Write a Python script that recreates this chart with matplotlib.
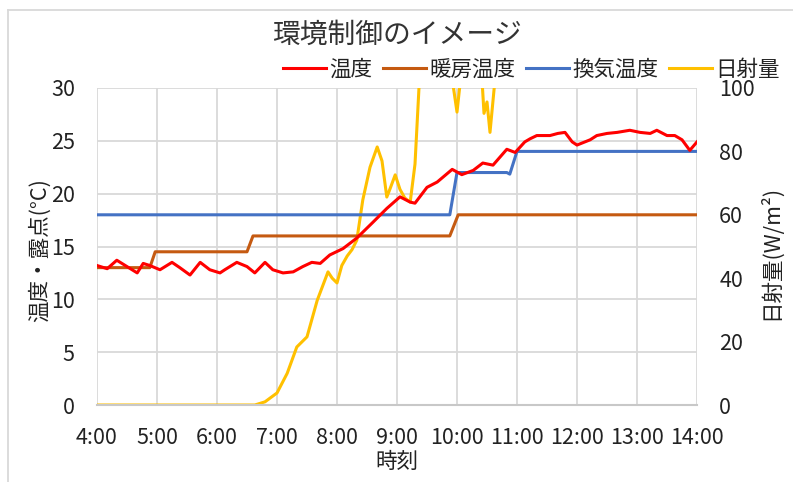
import matplotlib
matplotlib.use("Agg")
import matplotlib.pyplot as plt
from matplotlib.lines import Line2D

plt.rcParams['font.family'] = ['Noto Sans CJK JP', 'DejaVu Sans']

# ---- data (time in hours) ----
temp_t = [4.00, 4.17, 4.33, 4.50, 4.67, 4.77, 4.88, 5.05, 5.25, 5.38, 5.55, 5.72, 5.88,
          6.05, 6.13, 6.33, 6.50, 6.63, 6.80, 6.93, 7.10, 7.27, 7.43, 7.58, 7.72, 7.88,
          8.10, 8.33, 8.60, 8.83, 9.05, 9.22, 9.30, 9.50, 9.67, 9.92, 10.08, 10.27, 10.43,
          10.60, 10.83, 10.97, 11.13, 11.22, 11.33, 11.55, 11.68, 11.80, 11.92, 12.00,
          12.22, 12.33, 12.50, 12.67, 12.88, 13.05, 13.22, 13.33, 13.50, 13.63, 13.75,
          13.88, 14.00]
temp_v = [13.2, 12.9, 13.7, 13.1, 12.5, 13.4, 13.2, 12.8, 13.5, 13.0, 12.3, 13.5, 12.8,
          12.5, 12.8, 13.5, 13.1, 12.5, 13.5, 12.8, 12.5, 12.6, 13.1, 13.5, 13.4, 14.2,
          14.8, 15.8, 17.3, 18.6, 19.7, 19.2, 19.1, 20.6, 21.1, 22.3, 21.8, 22.2, 22.9,
          22.7, 24.2, 23.9, 24.9, 25.2, 25.5, 25.5, 25.7, 25.8, 24.9, 24.6,
          25.1, 25.5, 25.7, 25.8, 26.0, 25.8, 25.7, 26.0, 25.5, 25.5, 25.1,
          24.1, 24.9]

heat_t = [4.00, 4.88, 4.97, 6.50, 6.60, 9.88, 10.02, 14.00]
heat_v = [13.0, 13.0, 14.5, 14.5, 16.0, 16.0, 18.0, 18.0]

vent_t = [4.00, 9.88, 10.00, 10.83, 10.88, 11.00, 14.00]
vent_v = [18.0, 18.0, 22.0, 22.0, 21.85, 24.0, 24.0]

solar_t = [4.00, 6.63, 6.80, 7.00, 7.17, 7.33, 7.50, 7.67, 7.75, 7.85, 7.92, 8.00, 8.08,
           8.17, 8.25, 8.33, 8.43, 8.55, 8.67, 8.75, 8.83, 8.88, 8.97, 9.05, 9.13, 9.22,
           9.30, 9.38, 9.50, 9.75, 9.88, 10.00, 10.10, 10.30, 10.40, 10.45, 10.50, 10.55,
           10.63, 10.75, 12.00, 13.00, 14.00]
solar_v = [0, 0, 1, 3.8, 10, 18.3, 21.5, 33, 37, 42, 40, 38.5, 44,
           47, 49, 52, 64.7, 75, 81.4, 77, 65.6, 68, 72.6, 68, 65.3, 64,
           76, 105, 140, 130, 108, 92.4, 110, 130, 108, 92, 95.6, 86,
           102, 150, 200, 220, 180]

labels = ['温度', '暖房温度', '換気温度', '日射量']
colors = ['#FF0000', '#C55A11', '#4472C4', '#FFC000']
xticks = [4, 5, 6, 7, 8, 9, 10, 11, 12, 13, 14]
xticklabels = ['4:00', '5:00', '6:00', '7:00', '8:00', '9:00', '10:00', '11:00',
               '12:00', '13:00', '14:00']

W, H = 793, 482
fig = plt.figure(figsize=(W / 100, H / 100), dpi=100)
ax = fig.add_axes([97 / W, 1 - 405 / H, 600 / W, 317 / H])
ax2 = ax.twinx()

lw = 2.2
ax2.plot(solar_t, solar_v, color=colors[3], lw=lw, solid_joinstyle='round', zorder=1)
l2, = ax.plot(heat_t, heat_v, color=colors[1], lw=lw, zorder=3)
l3, = ax.plot(vent_t, vent_v, color=colors[2], lw=lw, zorder=3)
l1, = ax.plot(temp_t, temp_v, color=colors[0], lw=lw, solid_joinstyle='round', zorder=4)

ax.set_zorder(ax2.get_zorder() + 1)
ax.patch.set_visible(False)

ax.set_xlim(4, 14)
ax.set_ylim(0, 30)
ax2.set_ylim(0, 100)
ax.set_xticks(xticks)
ax.set_xticklabels(xticklabels)
ax.set_yticks([0, 5, 10, 15, 20, 25, 30])
ax2.set_yticks([0, 20, 40, 60, 80, 100])

fs = 15.5
ax.tick_params(axis='both', length=0, pad=16, labelsize=fs, colors='#222222')
ax2.tick_params(axis='y', length=0, pad=16, labelsize=fs, colors='#222222')

ax2.grid(False)
ax.set_axisbelow(True)
for y in [5, 10, 15, 20, 25, 30]:
    ax2.axhline(y / 30 * 100, color='#D9D9D9', lw=1.3, zorder=0)
for x in xticks:
    ax2.axvline(x, color='#D9D9D9', lw=1.3, zorder=0)

for a in (ax, ax2):
    for s in a.spines.values():
        s.set_visible(False)
ax2.spines['bottom'].set_visible(True)
ax2.spines['bottom'].set_color('#C8C8C8')
ax2.spines['bottom'].set_linewidth(1.5)

fig.text(40 / W, 1 - 250 / H, '温度・露点(°C)', rotation=90, ha='center', va='center',
         fontsize=fs, color='#222222')
fig.text(770 / W, 1 - 252 / H, '日射量(W/m²)', rotation=90, ha='center', va='center',
         fontsize=fs, color='#222222')
fig.text(397 / W, 1 - 462 / H, '時刻', ha='center', va='center', fontsize=fs,
         color='#222222')
fig.text(397 / W, 1 - 35 / H, '環境制御のイメージ', ha='center', va='center',
         fontsize=20, color='#333333')

handles = [Line2D([], [], color=c, lw=lw) for c in colors]
fig.legend(handles, labels, loc='center right', bbox_to_anchor=(780 / W, 1 - 70 / H),
           ncol=4, frameon=False, fontsize=fs, handlelength=2.0, handletextpad=0.15,
           columnspacing=0.5, borderaxespad=0, borderpad=0, labelcolor='#222222')

# figure border (left and top)
fig.add_artist(Line2D([8 / W, 8 / W], [0, 1 - 10 / H], color='#D9D9D9', lw=1.3,
                      transform=fig.transFigure))
fig.add_artist(Line2D([8 / W, 1], [1 - 10 / H, 1 - 10 / H], color='#D9D9D9', lw=1.3,
                      transform=fig.transFigure))

fig.savefig('out.png', dpi=100)
